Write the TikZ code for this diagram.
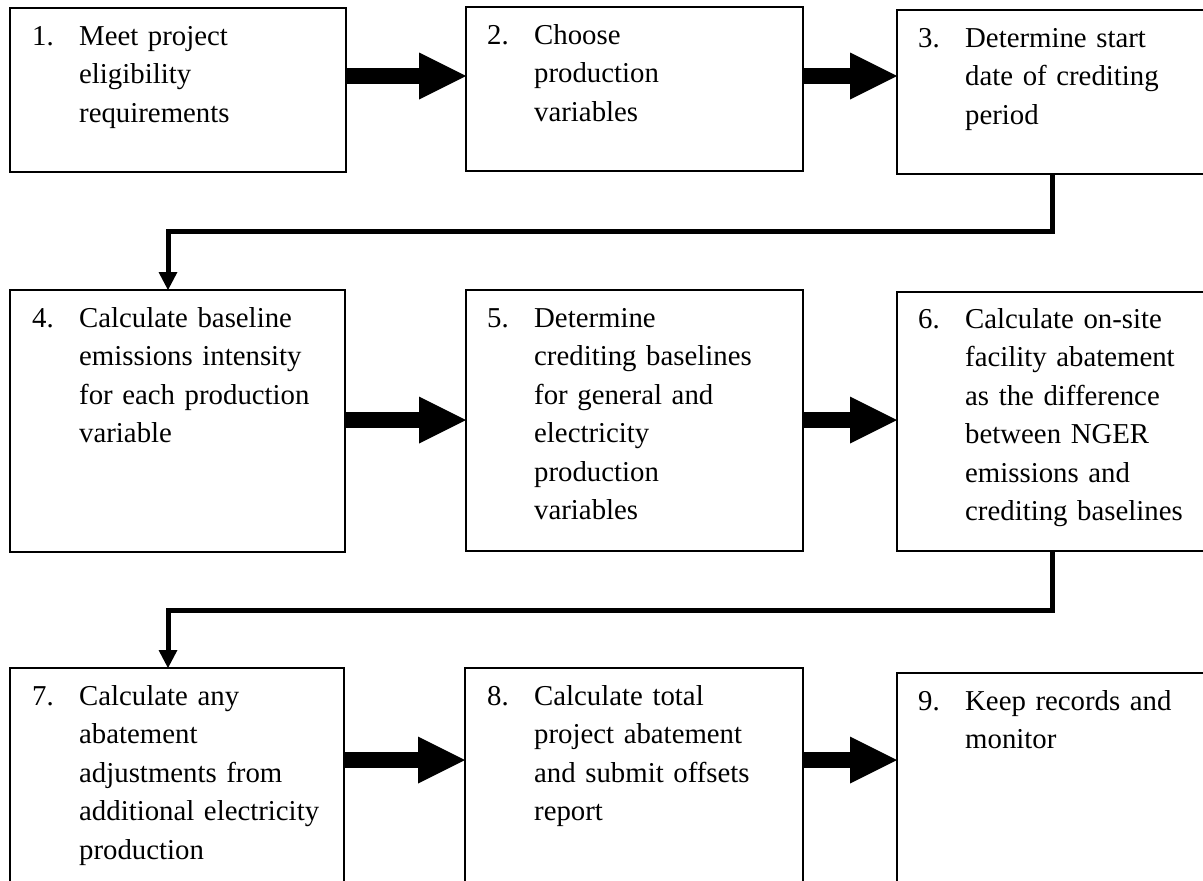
\documentclass[tikz,border=0pt]{standalone}
\usepackage{fontspec}
\setmainfont{Liberation Serif}
\usetikzlibrary{arrows.meta,calc}
\newcommand\steptxt[2]{\raggedright\leftskip=47pt\parindent=0pt\parskip=0pt\strut\hspace*{-47pt}\makebox[47pt][l]{#1}#2\par}
\begin{document}
\begin{tikzpicture}[x=1pt,y=-1pt,
  box/.style={draw, line width=2pt, rectangle, inner sep=0pt, outer sep=0pt, anchor=north west},
  txt/.style={anchor=north west, inner sep=0pt, text width=300pt, font=\fontsize{28.8}{38.5}\selectfont},
  bigarrow/.style={line width=16pt, -{Triangle[length=47pt 0 0, width=47pt 0 0, line width=0pt]}},
  conn/.style={line width=5pt, -{Triangle[length=18pt 0 0, width=19pt 0 0, line width=0pt]}}]
\useasboundingbox (0,0) rectangle (1203,881);
\fill[white] (0,0) rectangle (1203,881);
\clip (0,0) rectangle (1203,881);

% boxes
\node[box, minimum width=336pt, minimum height=164pt] (b1) at (10,8) {};
\node[box, minimum width=337pt, minimum height=164pt] (b2) at (466,7) {};
\node[box, minimum width=320pt, minimum height=164pt] (b3) at (897,10) {};
\node[box, minimum width=335pt, minimum height=262pt] (b4) at (10,290) {};
\node[box, minimum width=337pt, minimum height=261pt] (b5) at (466,290) {};
\node[box, minimum width=320pt, minimum height=259pt] (b6) at (897,292) {};
\node[box, minimum width=334pt, minimum height=250pt] (b7) at (10,668) {};
\node[box, minimum width=338pt, minimum height=250pt] (b8) at (465,668) {};
\node[box, minimum width=320pt, minimum height=250pt] (b9) at (897,673) {};

% texts
\node[txt] (t1) at ($(b1.north west)+(22,10)$) {\steptxt{1.}{Meet project\\eligibility\\requirements}};
\node[txt] (t2) at ($(b2.north west)+(21,10)$) {\steptxt{2.}{Choose\\production\\variables}};
\node[txt] (t3) at ($(b3.north west)+(21,10)$) {\steptxt{3.}{Determine start\\date of crediting\\period}};
\node[txt] (t4) at ($(b4.north west)+(22,10)$) {\steptxt{4.}{Calculate baseline\\emissions intensity\\for each production\\variable}};
\node[txt] (t5) at ($(b5.north west)+(21,10)$) {\steptxt{5.}{Determine\\crediting baselines\\for general and\\electricity\\production\\variables}};
\node[txt] (t6) at ($(b6.north west)+(21,9)$) {\steptxt{6.}{Calculate on-site\\facility abatement\\as the difference\\between NGER\\emissions and\\crediting baselines}};
\node[txt] (t7) at ($(b7.north west)+(22,10)$) {\steptxt{7.}{Calculate any\\abatement\\adjustments from\\additional electricity\\production}};
\node[txt] (t8) at ($(b8.north west)+(22,10)$) {\steptxt{8.}{Calculate total\\project abatement\\and submit offsets\\report}};
\node[txt] (t9) at ($(b9.north west)+(21,10)$) {\steptxt{9.}{Keep records and\\monitor}};

% row levels for big arrows
\coordinate (r1) at (0,76);
\coordinate (r2) at (0,420);
\coordinate (r3) at (0,760);

\draw[bigarrow] (b1.east |- r1) -- (b2.west |- r1);
\draw[bigarrow] (b2.east |- r1) -- (b3.west |- r1);
\draw[bigarrow] (b4.east |- r2) -- (b5.west |- r2);
\draw[bigarrow] (b5.east |- r2) -- (b6.west |- r2);
\draw[bigarrow] (b7.east |- r3) -- (b8.west |- r3);
\draw[bigarrow] (b8.east |- r3) -- (b9.west |- r3);

% row-change connectors
\draw[conn] ($(b3.south west)+(155,0)$) -- ++(0,57) -| ($(b4.north west)+(158,0)$);
\draw[conn] ($(b6.south west)+(155,0)$) -- ++(0,59) -| ($(b7.north west)+(158,0)$);
\end{tikzpicture}
\end{document}
